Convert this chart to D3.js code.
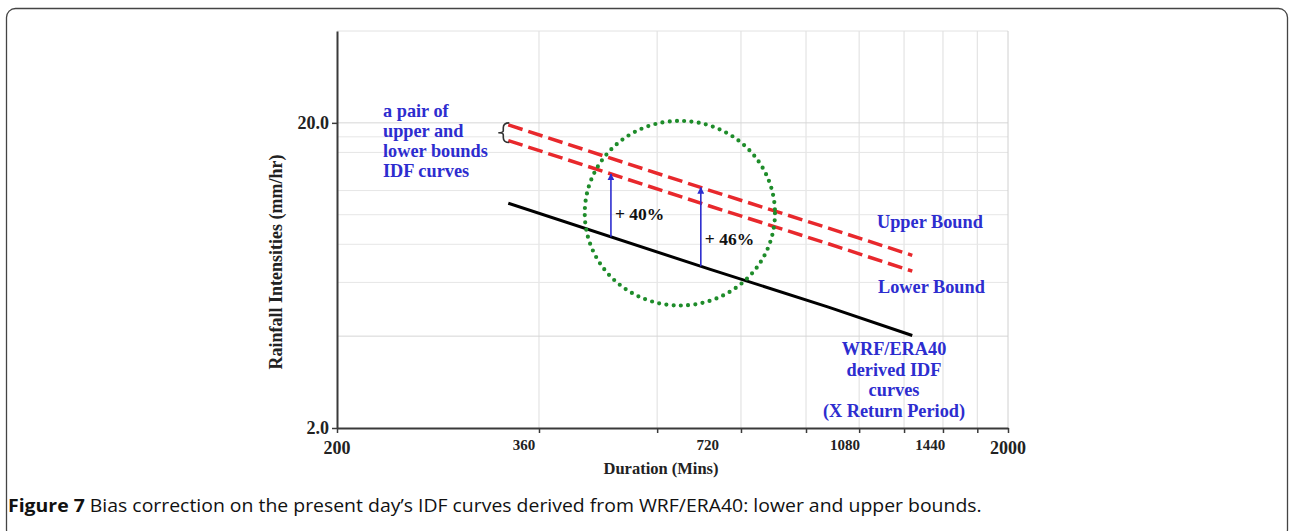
<!DOCTYPE html>
<html>
<head>
<meta charset="utf-8">
<script src="https://cdn.jsdelivr.net/npm/d3@7"></script>
<style>
  html, body { margin: 0; padding: 0; background: #fff; }
  svg { display: block; }
</style>
</head>
<body>
<svg id="chart" width="1289" height="531"></svg>
<script>
// ---- data ----
const durations   = [360, 720, 1080, 1440];           // minutes
const baseIDF     = [10.9, 6.62, 4.98, 4.02];          // WRF/ERA40 derived IDF (mm/hr)
const upperBound  = [19.7, 12.0, 9.04, 7.36];          // upper bound
const lowerBound  = [17.5, 10.66, 8.03, 6.53];         // lower bound

const xTickValues   = [200, 400, 600, 800, 1000, 1200, 1400, 1600, 1800, 2000];
const xTickLabels   = ["200", "360", "720", "1080", "1440", "2000"];
const xTickLabelAt  = [200, 380, 714, 1143, 1531, 2000];
const yTickValues   = [2, 20];
const yTickLabels   = ["2.0", "20.0"];
const yGridValues   = [4, 6, 8, 10, 12, 16, 18, 20];

const arrowDurations = [512, 697];
const arrowTargets   = ["lower", "upper"];
const arrowLabels    = ["+ 40%", "+ 46%"];

const circleDurations   = [468, 899];
const circleIntensities = [5.04, 20.3];

const noteLeft  = ["a pair of", "upper and", "lower bounds", "IDF curves"];
const noteBase  = ["WRF/ERA40", "derived IDF", "curves", "(X Return Period)"];
const caption   = "Bias correction on the present day\u2019s IDF curves derived from WRF/ERA40: lower and upper bounds.";

// ---- drawing ----
const svg = d3.select("#chart");
const serif = "'Liberation Serif', 'Times New Roman', serif";
const blue = "#2d2dcf";

const x = d3.scaleLog().domain([200, 2000]).range([337, 1008]);
const y = d3.scaleLog().domain([2, 40]).range([428, 31]);

// outer rounded frame
svg.append("rect")
  .attr("x", 6.5).attr("y", 8.5).attr("width", 1281).attr("height", 530)
  .attr("rx", 9).attr("fill", "none").attr("stroke", "#444").attr("stroke-width", 1.3);

// grid
const grid = svg.append("g");
grid.selectAll(".vg").data(xTickValues.filter(d => d > 200 && d < 2000)).join("line")
  .attr("x1", d => x(d)).attr("x2", d => x(d))
  .attr("y1", y.range()[1]).attr("y2", y.range()[0])
  .attr("stroke", "#dedede").attr("stroke-width", 1);
grid.selectAll(".hg").data(yGridValues).join("line")
  .attr("x1", x.range()[0]).attr("x2", x.range()[1])
  .attr("y1", d => y(d)).attr("y2", d => y(d))
  .attr("stroke", d => d === 20 || d === 4 ? "#d6d6d6" : "#e6e6e6").attr("stroke-width", 1);
// top & right plot frame
grid.append("line").attr("x1", x.range()[0]).attr("x2", x.range()[1])
  .attr("y1", y.range()[1]).attr("y2", y.range()[1]).attr("stroke", "#e2e2e2");
grid.append("line").attr("x1", x.range()[1]).attr("x2", x.range()[1])
  .attr("y1", y.range()[1]).attr("y2", y.range()[0]).attr("stroke", "#d0d0d0");

// axes
const xAxis = svg.append("g").attr("transform", `translate(0,${y.range()[0]})`)
  .call(d3.axisBottom(x).tickValues(xTickValues).tickFormat("").tickSize(5).tickSizeOuter(0));
xAxis.select(".domain").attr("stroke", "#3a3a3a").attr("stroke-width", 2);
xAxis.selectAll(".tick line").attr("stroke", "#3a3a3a").attr("stroke-width", 1.5);

const yAxis = svg.append("g").attr("transform", `translate(${x.range()[0]},0)`)
  .call(d3.axisLeft(y).tickValues(yTickValues).tickFormat((d, i) => yTickLabels[i])
    .tickSize(5).tickPadding(3).tickSizeOuter(0));
yAxis.select(".domain").attr("stroke", "#3a3a3a").attr("stroke-width", 2);
yAxis.selectAll(".tick line").attr("stroke", "#3a3a3a").attr("stroke-width", 1.5);
yAxis.selectAll(".tick text").attr("font-family", serif).attr("font-weight", "bold")
  .attr("font-size", 18).attr("fill", "#222");

// x tick labels (as printed in the figure)
svg.append("g").selectAll("text").data(xTickLabels).join("text")
  .attr("x", (d, i) => x(xTickLabelAt[i]))
  .attr("y", (d, i) => (i === 0 || i === xTickLabels.length - 1) ? 454 : 450)
  .attr("text-anchor", "middle")
  .attr("font-family", serif).attr("font-weight", "bold")
  .attr("font-size", (d, i) => (i === 0 || i === xTickLabels.length - 1) ? 18 : 15)
  .attr("fill", "#222")
  .text(d => d);

// axis titles
svg.append("text")
  .attr("transform", "translate(282,262) rotate(-90)")
  .attr("text-anchor", "middle")
  .attr("font-family", serif).attr("font-weight", "bold").attr("font-size", 18)
  .attr("fill", "#222").text("Rainfall Intensities (mm/hr)");
svg.append("text")
  .attr("x", 661).attr("y", 474).attr("text-anchor", "middle")
  .attr("font-family", serif).attr("font-weight", "bold").attr("font-size", 16.5)
  .attr("fill", "#222").text("Duration (Mins)");

// series lines
const line = d3.line().x(d => x(d[0])).y(d => y(d[1]));
const pts = vals => durations.map((d, i) => [d, vals[i]]);

svg.append("path").datum(pts(baseIDF)).attr("d", line)
  .attr("fill", "none").attr("stroke", "#000").attr("stroke-width", 3);
svg.append("path").datum(pts(upperBound)).attr("d", line)
  .attr("fill", "none").attr("stroke", "#e8282c").attr("stroke-width", 3.5)
  .attr("stroke-dasharray", "15,6");
svg.append("path").datum(pts(lowerBound)).attr("d", line)
  .attr("fill", "none").attr("stroke", "#e8282c").attr("stroke-width", 3.5)
  .attr("stroke-dasharray", "15,6");

// log-log interpolation
function interp(vals, d) {
  const lx = Math.log(d);
  for (let i = 0; i < durations.length - 1; i++) {
    const a = Math.log(durations[i]), b = Math.log(durations[i + 1]);
    if (lx >= a && lx <= b) {
      const t = (lx - a) / (b - a);
      return Math.exp(Math.log(vals[i]) * (1 - t) + Math.log(vals[i + 1]) * t);
    }
  }
  return vals[0];
}

// green dotted circle
const cx = (x(circleDurations[0]) + x(circleDurations[1])) / 2;
const cy = (y(circleIntensities[0]) + y(circleIntensities[1])) / 2;
svg.append("ellipse")
  .attr("cx", cx).attr("cy", cy)
  .attr("rx", (x(circleDurations[1]) - x(circleDurations[0])) / 2)
  .attr("ry", (y(circleIntensities[0]) - y(circleIntensities[1])) / 2)
  .attr("fill", "none").attr("stroke", "#1e8c2a").attr("stroke-width", 4.2)
  .attr("stroke-linecap", "round").attr("stroke-dasharray", "0,7.3");

// arrows
const defs = svg.append("defs");
defs.append("marker").attr("id", "ah").attr("viewBox", "0 0 10 10")
  .attr("refX", 9).attr("refY", 5).attr("markerWidth", 7).attr("markerHeight", 7)
  .attr("markerUnits", "userSpaceOnUse").attr("orient", "auto")
  .append("path").attr("d", "M0,0 L10,5 L0,10 Z").attr("fill", blue);

arrowDurations.forEach((d, i) => {
  const target = arrowTargets[i] === "upper" ? upperBound : lowerBound;
  const y0 = y(interp(baseIDF, d)), y1 = y(interp(target, d));
  svg.append("line")
    .attr("x1", x(d)).attr("x2", x(d)).attr("y1", y0).attr("y2", y1)
    .attr("stroke", blue).attr("stroke-width", 1.6).attr("marker-end", "url(#ah)");
  svg.append("text")
    .attr("x", x(d) + 4).attr("y", y0 + (y1 - y0) * 0.27)
    .attr("font-family", serif).attr("font-weight", "bold").attr("font-size", 17.5)
    .attr("fill", "#111").text(arrowLabels[i]);
});

// brace next to the bound pair
const bx = x(durations[0]) - 5;
const by0 = y(upperBound[0]) - 2, by1 = y(lowerBound[0]) + 2, bm = (by0 + by1) / 2;
svg.append("path")
  .attr("d", `M${bx + 6},${by0} Q${bx},${by0} ${bx},${by0 + 5} L${bx},${bm - 2} Q${bx},${bm} ${bx - 5},${bm}
              Q${bx},${bm} ${bx},${bm + 2} L${bx},${by1 - 5} Q${bx},${by1} ${bx + 6},${by1}`)
  .attr("fill", "none").attr("stroke", "#333").attr("stroke-width", 1.6);

// blue notes
const notes = svg.append("g").attr("font-family", serif).attr("font-weight", "bold")
  .attr("font-size", 18.3).attr("fill", blue);
notes.selectAll(".nl").data(noteLeft).join("text")
  .attr("x", 383).attr("y", (d, i) => 117 + i * 20).text(d => d);
notes.append("text").attr("x", 877).attr("y", 228).text("Upper Bound");
notes.append("text").attr("x", 878).attr("y", 293).text("Lower Bound");
notes.selectAll(".nb").data(noteBase).join("text")
  .attr("x", 894).attr("y", (d, i) => 355 + i * 20.7)
  .attr("text-anchor", "middle").text(d => d);

// caption
const capG = svg.append("g");
const cap = capG.append("text").attr("x", 0).attr("y", 0)
  .attr("font-family", "'Open Sans', 'Noto Sans', sans-serif").attr("font-size", 18).attr("fill", "#111");
cap.append("tspan").attr("font-weight", "bold").text("Figure 7");
cap.append("tspan").text(" " + caption);
const w = cap.node().getComputedTextLength();
const sx = 974 / w;
capG.attr("transform", `translate(8,512) scale(${sx},1)`);
</script>
</body>
</html>
